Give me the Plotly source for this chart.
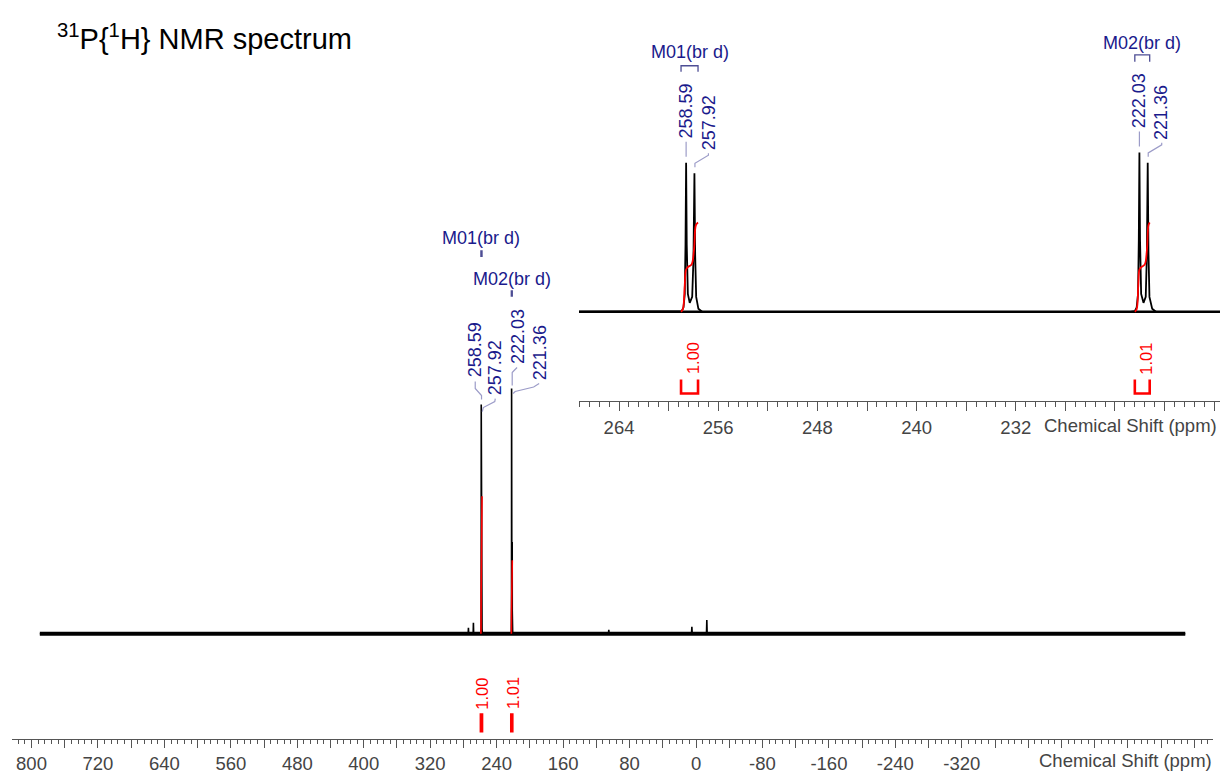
import plotly.graph_objects as go

# ---------------- data ----------------
# spectrum points: chemical shift (ppm) and intensity (arbitrary units)
spec_ppm = [790.0,
            274.3, 274.0, 273.7,
            268.3, 268.0, 267.7,
            259.30, 258.95, 258.80, 258.70, 258.64, 258.59, 258.54, 258.45, 258.30,
            258.10, 258.00, 257.92, 257.86, 257.78, 257.60, 257.30,
            222.75, 222.40, 222.25, 222.14, 222.08, 222.03, 221.98, 221.89, 221.70,
            221.52, 221.43, 221.36, 221.30, 221.22, 221.00, 220.70,
            105.4, 105.0, 104.6,
            5.4, 5.0, 4.6,
            -12.6, -13.0, -13.4,
            -589.0]
spec_int = [0.0,
            0.0, 2.6, 0.0,
            0.0, 4.8, 0.0,
            0.0, 0.5, 3.0, 12.0, 45.0, 100.0, 45.0, 12.0, 6.0,
            10.0, 35.0, 93.0, 38.0, 10.0, 2.0, 0.0,
            0.0, 0.5, 3.0, 12.0, 48.0, 107.0, 48.0, 12.0, 6.0,
            10.0, 38.0, 100.0, 40.0, 10.0, 2.0, 0.0,
            0.0, 1.7, 0.0,
            0.0, 3.0, 0.0,
            0.0, 6.0, 0.0,
            0.0]

# picked peaks
peak_ppm = [258.59, 257.92, 222.03, 221.36]
peak_int = [100.0, 93.0, 107.0, 100.0]

# multiplets / integrals
mult_names = ["M01(br d)", "M02(br d)"]
mult_from = [259.00, 222.40]
mult_to = [257.63, 221.20]
integral_values = ["1.00", "1.01"]

# integral curves (normalised 0..1)
int1_ppm = [259.00, 258.85, 258.70, 258.60, 258.45, 258.15, 257.95, 257.80, 257.63]
int1_val = [0.00, 0.03, 0.30, 0.47, 0.50, 0.53, 0.70, 0.97, 1.00]
int2_ppm = [222.40, 222.25, 222.12, 222.03, 221.88, 221.60, 221.42, 221.30, 221.20]
int2_val = [0.00, 0.03, 0.30, 0.47, 0.50, 0.53, 0.70, 0.97, 1.00]

# axis ticks
main_label_ticks = list(range(800, -321, -80))
main_all_ticks = list(range(800, -601, -40))
inset_label_ticks = list(range(264, 231, -8))
inset_all_ticks = list(range(264, 215, -4))

# ---------------- style ----------------
W, H = 1222, 774
FONT = "Liberation Sans, Arial, sans-serif"
NAVY = "#1a1a8c"
LILAC = "#9c9cc8"
BRACKET = "#4d4d94"
RED = "#ff0000"
AX = "#555555"
TICKTXT = "#444444"


def py(px):
    return 1 - px / H


def px_x(px):
    return px / W


fig = go.Figure()

# ---- main spectrum ----
fig.add_trace(go.Scatter(x=[spec_ppm[0], spec_ppm[-1]], y=[spec_int[0], spec_int[-1]],
                         mode="lines", line=dict(color="black", width=4),
                         xaxis="x", yaxis="y", hoverinfo="skip"))
fig.add_trace(go.Scatter(x=spec_ppm, y=spec_int, mode="lines",
                         line=dict(color="black", width=1.6),
                         xaxis="x", yaxis="y"))
main_int_scale = [60.0, 32.0]
for ip, iv, sc in zip([int1_ppm, int2_ppm], [int1_val, int2_val], main_int_scale):
    fig.add_trace(go.Scatter(x=ip, y=[v * sc for v in iv], mode="lines",
                             line=dict(color=RED, width=1.6),
                             xaxis="x", yaxis="y"))
# invisible trace so the overlay tick axis is drawn
fig.add_trace(go.Scatter(x=[spec_ppm[0]], y=[spec_int[0]], mode="markers",
                         marker=dict(opacity=0), xaxis="x3", yaxis="y", hoverinfo="skip"))

# ---- inset spectrum ----
fig.add_trace(go.Scatter(x=[spec_ppm[0], spec_ppm[-1]], y=[spec_int[0], spec_int[-1]],
                         mode="lines", line=dict(color="black", width=2.4),
                         xaxis="x2", yaxis="y2", hoverinfo="skip"))
fig.add_trace(go.Scatter(x=spec_ppm, y=spec_int, mode="lines",
                         line=dict(color="black", width=1.8),
                         xaxis="x2", yaxis="y2"))
inset_int_scale = [60.0, 60.0]
for ip, iv, sc in zip([int1_ppm, int2_ppm], [int1_val, int2_val], inset_int_scale):
    fig.add_trace(go.Scatter(x=ip, y=[v * sc for v in iv], mode="lines",
                             line=dict(color=RED, width=1.8, shape="spline"),
                             xaxis="x2", yaxis="y2"))
fig.add_trace(go.Scatter(x=[peak_ppm[0]], y=[0], mode="markers",
                         marker=dict(opacity=0), xaxis="x4", yaxis="y2", hoverinfo="skip"))

annotations = []
shapes = []

# title
annotations.append(dict(x=px_x(55), y=py(37), xref="paper", yref="paper",
                        xanchor="left", yanchor="middle", showarrow=False,
                        text="<sup>31</sup>P{<sup>1</sup>H} NMR spectrum",
                        font=dict(family=FONT, size=29, color="black")))

# axis titles
annotations.append(dict(x=px_x(1214), y=py(763), xref="paper", yref="paper",
                        xanchor="right", yanchor="middle", showarrow=False,
                        text="Chemical Shift (ppm)",
                        font=dict(family=FONT, size=18.5, color=TICKTXT)))
annotations.append(dict(x=px_x(1219), y=py(427), xref="paper", yref="paper",
                        xanchor="right", yanchor="middle", showarrow=False,
                        text="Chemical Shift (ppm)",
                        font=dict(family=FONT, size=18.5, color=TICKTXT)))

# peak labels + connectors
main_lab_shift = [(-6, 26), (13.5, 24), (6.5, 23), (28, 23)]
main_conn = [
    [(0.3, 5), (0.3, 9), (-6, 16), (-6, 23)],
    [(13.5, 22), (13, 19), (1.5, 13), (0.5, 9)],
    [(5.5, 21), (2.5, 18), (0.6, 16), (0.6, 3)],
    [(27, 21), (21.5, 17.5), (3, 13), (1, 11)],
]
inset_lab_shift = [(0, 23), (14, 22), (0, 23), (14, 22)]
inset_conn = [
    [(0, 6), (0, 21)],
    [(14, 20), (14, 18), (0.5, 10), (0.5, 6)],
    [(0, 6), (0, 21)],
    [(14, 20), (14, 18), (0.5, 10), (0.5, 6)],
]


def path_from(pts):
    return "M " + " L ".join(f"{a},{b}" for a, b in pts)


for axx, axy, shifts, conns in [("x", "y", main_lab_shift, main_conn),
                                 ("x2", "y2", inset_lab_shift, inset_conn)]:
    for p, h, (dx, dy), cn in zip(peak_ppm, peak_int, shifts, conns):
        annotations.append(dict(x=p, y=h, xref=axx, yref=axy, text=f"{p:.2f}",
                                textangle=-90, xanchor="center", yanchor="bottom",
                                xshift=dx, yshift=dy, showarrow=False, borderpad=0,
                                font=dict(family=FONT, size=18, color=NAVY)))
        shapes.append(dict(type="path", xref=axx, yref=axy,
                           xsizemode="pixel", ysizemode="pixel",
                           xanchor=p, yanchor=h, path=path_from(cn),
                           line=dict(color=LILAC, width=1.2)))

# multiplet labels and brackets
main_mult_y = [239, 280]
main_mult_br = [(252, 258), (292, 298)]
inset_mult_y = [52, 43]
inset_mult_br = [(66, 72), (55, 62)]
for axx, ys, brs in [("x", main_mult_y, main_mult_br), ("x2", inset_mult_y, inset_mult_br)]:
    for name, a, b, ty, (bt, bb) in zip(mult_names, mult_from, mult_to, ys, brs):
        c = (a + b) / 2
        annotations.append(dict(x=c, y=py(ty), xref=axx, yref="paper", text=name,
                                xanchor="center", yanchor="middle", showarrow=False,
                                font=dict(family=FONT, size=18, color=NAVY)))
        shapes.append(dict(type="path", xref=axx, yref="paper",
                           path=f"M {a},{py(bb)} L {a},{py(bt)} L {b},{py(bt)} L {b},{py(bb)}",
                           line=dict(color=BRACKET, width=1.3)))

# integral labels and brackets
main_int_txt = 713
main_int_br = (716, 734)
inset_int_txt = 377
inset_int_br = (381, 395)
for axx, ty, (bt, bb), dx in [("x", main_int_txt, main_int_br, 1),
                               ("x2", inset_int_txt, inset_int_br, 3)]:
    for val, a, b in zip(integral_values, mult_from, mult_to):
        c = (a + b) / 2
        annotations.append(dict(x=c, y=py(ty), xref=axx, yref="paper", text=val,
                                textangle=-90, xanchor="center", yanchor="bottom",
                                xshift=dx, showarrow=False, borderpad=0,
                                font=dict(family=FONT, size=16.5, color=RED)))
        shapes.append(dict(type="path", xref=axx, yref="paper",
                           path=f"M {a},{py(bt)} L {a},{py(bb)} L {b},{py(bb)} L {b},{py(bt)}",
                           line=dict(color=RED, width=2.6)))

tickfont = dict(family=FONT, size=18.5, color=TICKTXT)
MAIN_RANGE = [823.5, -622.4]
MAIN_DOM = [px_x(12), px_x(1213)]
INSET_RANGE = [267.23, 215.53]
INSET_DOM = [px_x(579), px_x(1220)]

fig.update_layout(
    width=W, height=H, margin=dict(l=0, r=0, t=0, b=0),
    paper_bgcolor="white", plot_bgcolor="white", showlegend=False,
    xaxis=dict(domain=MAIN_DOM, range=MAIN_RANGE, anchor="y",
               showline=True, linecolor=AX, linewidth=1, showgrid=False, zeroline=False,
               tickmode="array", tickvals=main_label_ticks,
               ticktext=[str(v) for v in main_label_ticks],
               ticks="outside", ticklen=8, tickcolor=AX, tickfont=tickfont,
               minor=dict(tick0=0, dtick=8, ticklen=4, ticks="outside", tickcolor=AX, showgrid=False)),
    xaxis3=dict(domain=MAIN_DOM, range=MAIN_RANGE, anchor="y", overlaying="x",
                showline=False, showgrid=False, zeroline=False, showticklabels=False,
                tickmode="array", tickvals=main_all_ticks,
                ticks="outside", ticklen=8, tickcolor=AX),
    yaxis=dict(domain=[py(742), 1.0], range=[-46, 276.5], visible=False),
    xaxis2=dict(domain=INSET_DOM, range=INSET_RANGE, anchor="y2",
                showline=True, linecolor=AX, linewidth=1, showgrid=False, zeroline=False,
                tickmode="array", tickvals=inset_label_ticks,
                ticktext=[str(v) for v in inset_label_ticks],
                ticks="outside", ticklen=9, tickcolor=AX, tickfont=tickfont,
                minor=dict(tick0=0, dtick=0.8, ticklen=5, ticks="outside", tickcolor=AX, showgrid=False)),
    xaxis4=dict(domain=INSET_DOM, range=INSET_RANGE, anchor="y2", overlaying="x2",
                showline=False, showgrid=False, zeroline=False, showticklabels=False,
                tickmode="array", tickvals=inset_all_ticks,
                ticks="outside", ticklen=9, tickcolor=AX),
    yaxis2=dict(domain=[py(403), 0.85], range=[-60.2, 131.7], visible=False),
    annotations=annotations, shapes=shapes,
)

fig.write_html("out.html")
